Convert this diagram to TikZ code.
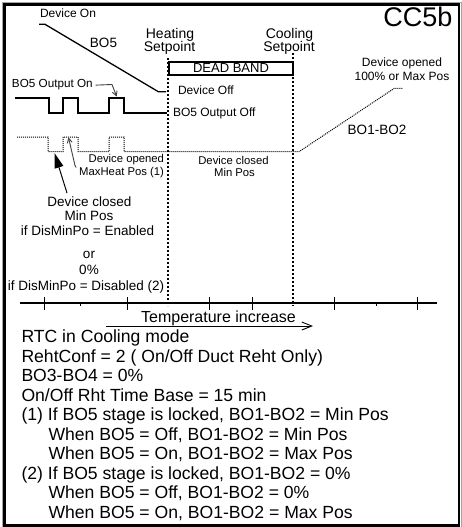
\documentclass[tikz,border=0pt]{standalone}
\usepackage{fontspec}
\setmainfont{Liberation Sans}
\usetikzlibrary{arrows.meta}
\begin{document}
\begin{tikzpicture}[x=1pt,y=-1pt,
  txt/.style={inner sep=0pt, outer sep=0pt},
  fs/.style={font=\fontsize{#1}{#1}\selectfont},
  setline/.style={line width=1.8pt, dash pattern=on 1.6pt off 2.4pt},
  dotwave/.style={line width=1pt, black, dash pattern=on 1pt off 1pt},
  conn/.style={line width=0.9pt, black!75, -{Straight Barb[length=4.5pt,width=5pt]}},
  bigtick/.style={line width=1pt},
  btxt/.style={txt, fs=17.6, anchor=base west}]
\useasboundingbox (0,0) rectangle (462,527);
% frame
\draw[gray!70, line width=0.8pt] (2,527) -- (2,2) -- (461.2,2) -- (461.2,527);
\draw[line width=2.4pt] (4.6,4.6) rectangle (458.8,525.3);
% title
\node[txt, fs=27, anchor=base] (title) at (418,27) {CC5b};
% top labels
\node[txt, fs=12, anchor=base west] (devon) at (40,17.5) {Device On};
\node[txt, fs=13.5, anchor=base] (bo5) at (103.5,47.5) {BO5};
\node[txt, fs=14, anchor=base] (heat1) at (170,38) {Heating};
\node[txt, fs=14, anchor=base] (heat2) at (169.5,51.5) {Setpoint};
\node[txt, fs=14, anchor=base] (cool1) at (289.5,38) {Cooling};
\node[txt, fs=14, anchor=base] (cool2) at (289,51.5) {Setpoint};
% setpoint dotted lines
\draw[setline] (168,58) -- (168,306);
\draw[setline] (293,53) -- (293,306);
% dead band
\node[draw, line width=1.3pt, inner sep=0pt, minimum width=124pt, minimum height=13pt, fs=13] (dead) at (231,68.5) {DEAD BAND};
\node[txt, fs=12, anchor=base west] (devoff) at (178,94) {Device Off};
\node[txt, fs=12, anchor=base west] (bo5off) at (173,116) {BO5 Output Off};
\node[txt, fs=11.7, anchor=base west] (bo5onlbl) at (12,88) {BO5 Output On};
\node[txt, fs=12, anchor=base] (open1) at (402,66.7) {Device opened};
\node[txt, fs=12, anchor=base] (open2) at (402,81) {100\% or Max Pos};
\node[txt, fs=13.5, anchor=base] (bo12) at (377,134) {BO1-BO2};
\node[txt, fs=11.3, anchor=base east] (mh1) at (164,162.7) {Device opened};
\node[txt, fs=11.3, anchor=base east] (mh2) at (164,175.7) {MaxHeat Pos (1)};
\node[txt, fs=11.3, anchor=base] (dc1) at (233.5,164.5) {Device closed};
\node[txt, fs=11.3, anchor=base] (dc2) at (234.5,176.3) {Min Pos};
% left block
\node[txt, fs=13.5, anchor=base] (lb1) at (89.5,206) {Device closed};
\node[txt, fs=13.5, anchor=base] (lb2) at (89,220.7) {Min Pos};
\node[txt, fs=13.5, anchor=base] (lb3) at (87.5,235) {if DisMinPo = Enabled};
\node[txt, fs=13.5, anchor=base] (lb4) at (89,258.3) {or};
\node[txt, fs=13.5, anchor=base] (lb5) at (89,274) {0\%};
\node[txt, fs=13.5, anchor=base] (lb6) at (86,290) {if DisMinPo = Disabled (2)};
% BO5 ramp
\draw[line width=1.3pt] (39,24.3) -- (45,24.3) -- (158.3,91.7) -- (166,91.7);
% BO5 output pulses
\draw[line width=2.2pt, line join=miter] (15,97.7) -- (49.3,97.7) -- (49.3,113.3) -- (63.3,113.3) -- (63.3,97.7)
  -- (78.3,97.7) -- (78.3,113.3) -- (109.3,113.3) -- (109.3,97.7) -- (124.3,97.7) -- (124.3,113.3) -- (167,113.3);
% BO1-BO2 dotted wave
\draw[dotwave] (17,137) -- (48,137) -- (48,151.5) -- (63,151.5) -- (63,137) -- (78,137) -- (78,151.5)
  -- (109,151.5) -- (109,137) -- (124,137) -- (124,151.5) -- (299.3,151.5) -- (394.3,88.3) -- (403,88.3);
% connectors
\coordinate (c1a) at (112,84.5);
\coordinate (c1b) at (116.7,96.5);
\draw[conn] ([xshift=3pt]bo5onlbl.east) -- (c1a) -- (c1b);
\coordinate (c2a) at (75,165.5);
\coordinate (c2b) at (68.5,137.5);
\draw[conn] ([xshift=-3pt]mh2.north west) -- (c2a) -- (c2b);
\coordinate (c3a) at (67,193);
\coordinate (c3b) at (54.5,153);
\draw[line width=1pt, -{Triangle[length=15pt,width=9pt]}] (c3a) -- (c3b);
% axis
\coordinate (ax0) at (20,303);
\coordinate (ax1) at (437,303);
\draw[line width=1.2pt] (ax0) -- (ax1);
\foreach \x in {44,127,209,252,334,417} \draw[bigtick] (\x,297) -- (\x,309.5);
\foreach \x in {80,376} \draw[bigtick] (\x,301.5) -- (\x,306);
% temperature
\node[txt, fs=16, anchor=base] (temp) at (218.5,322.7) {Temperature increase};
\coordinate (ta) at (106,326);
\coordinate (tb) at (313,326);
\draw[line width=0.9pt, -{Straight Barb[length=10pt,width=8pt]}] (ta) -- (tb);
% bottom text
\node[btxt] (l1) at (21.5,342.7) {RTC in Cooling mode};
\node[btxt] (l2) at (21.5,362.2) {RehtConf = 2 ( On/Off Duct Reht Only)};
\node[btxt] (l3) at (21.5,381.7) {BO3-BO4 = 0\%};
\node[btxt] (l4) at (21.5,401.2) {On/Off Rht Time Base = 15 min};
\node[btxt] (l5) at (21.5,420.7) {(1) If BO5 stage is locked, BO1-BO2 = Min Pos};
\node[btxt] (l6) at (48.5,440.2) {When BO5 = Off, BO1-BO2 = Min Pos};
\node[btxt] (l7) at (48.5,459.7) {When BO5 = On, BO1-BO2 = Max Pos};
\node[btxt] (l8) at (21.5,479.2) {(2) If BO5 stage is locked, BO1-BO2 = 0\%};
\node[btxt] (l9) at (48.5,498.7) {When BO5 = Off, BO1-BO2 = 0\%};
\node[btxt] (l10) at (48.5,518.2) {When BO5 = On, BO1-BO2 = Max Pos};
\end{tikzpicture}
\end{document}
